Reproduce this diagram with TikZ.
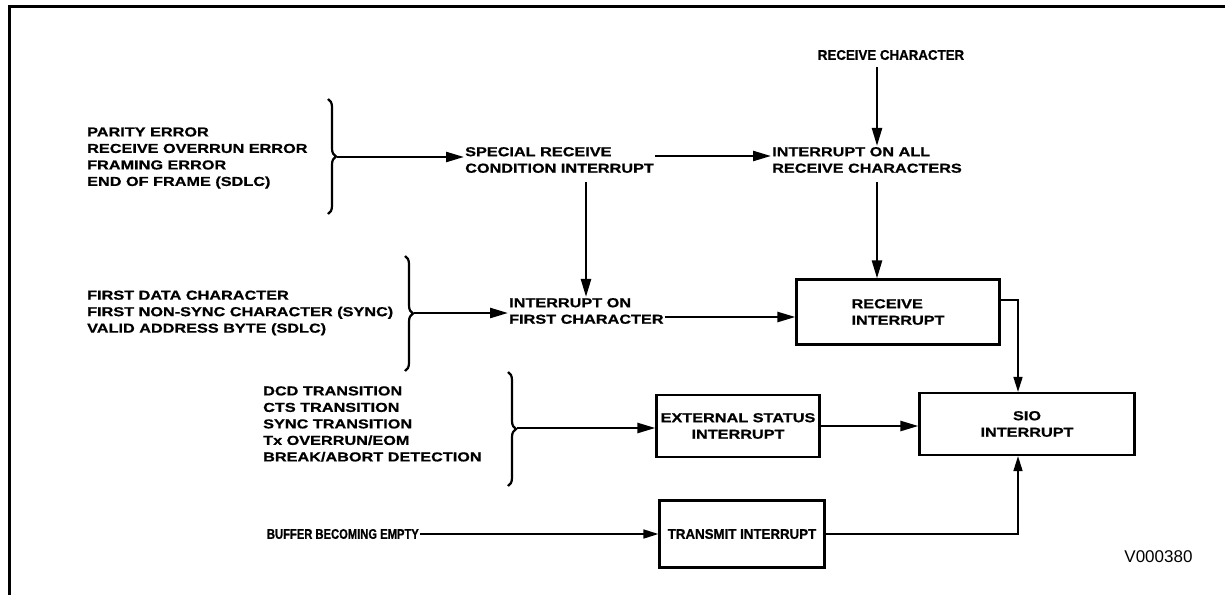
\documentclass[tikz,border=0pt]{standalone}
\usepackage{fontspec}
\setmainfont{Liberation Sans}
\newfontfamily\widefont{Liberation Sans}[FakeStretch=1.25, BoldFeatures={FakeBold=0.8}]
\newfontfamily\condfont{Liberation Sans}[FakeStretch=0.95, BoldFeatures={FakeBold=0.8}]
\newfontfamily\narrowfont{Liberation Sans}[FakeStretch=0.8, BoldFeatures={FakeBold=0.8}]
\usetikzlibrary{arrows.meta,decorations.pathreplacing}
\begin{document}
\begin{tikzpicture}[x=1pt,y=-1pt,
  lbl/.style={font=\widefont\bfseries\fontsize{13}{16.5}\selectfont, align=left, inner sep=1pt},
  clbl/.style={font=\condfont\bfseries\fontsize{14}{16}\selectfont, inner sep=1pt},
  boxnode/.style={draw, line width=2.2pt, font=\widefont\bfseries\fontsize{13}{16.5}\selectfont, align=left},
  arr/.style={line width=2.4pt, -{Triangle[length=18pt,width=10pt]}},
  tarr/.style={line width=1.6pt, -{Triangle[length=15pt,width=9pt]}},
  brc/.style={decorate, decoration={brace, amplitude=8pt}, line width=2.2pt}
]
\useasboundingbox (0,0) rectangle (1225,594);
% frame
\draw[line width=3pt] (9,596) -- (9,7) -- (1227,7);

\coordinate (xa) at (877,0);
\coordinate (xb) at (586,0);
\coordinate (xc) at (1018,0);

% top row
\node[clbl] (rc) at (891,55) {RECEIVE CHARACTER};
\node[lbl, anchor=west] (g1) at (86,158) {PARITY ERROR\\RECEIVE OVERRUN ERROR\\FRAMING ERROR\\END OF FRAME (SDLC)};
\draw[brc] (328,99) -- (328,214);
\coordinate (b1) at (337,157);
\node[lbl, anchor=west] (sp) at (464,160) {SPECIAL RECEIVE\\CONDITION INTERRUPT};
\node[lbl, anchor=west] (all) at (771,160) {INTERRUPT ON ALL\\RECEIVE CHARACTERS};
\draw[arr] (b1) -- (sp.west |- b1);
\draw[arr] ([yshift=4pt]sp.east) -- ([yshift=4pt]all.west);
\draw[arr] ([yshift=-6pt]rc.south -| xa) -- (all.north -| xa);

% second row
\node[lbl, anchor=west] (g2) at (86,313) {FIRST DATA CHARACTER\\FIRST NON-SYNC CHARACTER (SYNC)\\VALID ADDRESS BYTE (SDLC)};
\draw[brc] (405,256) -- (405,371);
\coordinate (b2) at (414,313);
\node[lbl, anchor=west] (fc) at (508,311) {INTERRUPT ON\\FIRST CHARACTER};
\node[boxnode, minimum width=203pt, minimum height=65pt] (recv) at (898,312) {RECEIVE\\INTERRUPT};
\draw[arr] (b2) -- (fc.west |- b2);
\draw[arr] ([yshift=-6pt]fc.east) -- ([yshift=-6pt]fc.east -| recv.west);
\draw[arr] ([yshift=-8pt]sp.south -| xb) -- (fc.north -| xb);
\draw[arr] ([yshift=-8pt]all.south -| xa) -- (recv.north -| xa);

% third row
\node[lbl, anchor=west] (g3) at (262,424) {DCD TRANSITION\\CTS TRANSITION\\SYNC TRANSITION\\Tx OVERRUN/EOM\\BREAK/ABORT DETECTION};
\draw[brc] (508,372) -- (508,486);
\coordinate (b3) at (517,428);
\node[boxnode, align=center, minimum width=163pt, minimum height=62pt] (ext) at (738,426) {EXTERNAL STATUS\\INTERRUPT};
\node[boxnode, align=center, minimum width=215pt, minimum height=62pt] (sio) at (1027,424) {SIO\\INTERRUPT};
\draw[arr] (b3) -- (ext.west |- b3);
\draw[arr] (ext.east) -- (ext.east -| sio.west);
\draw[tarr] ([yshift=12pt]recv.east) -| (sio.north -| xc);

% bottom row
\node[font=\narrowfont\bfseries\fontsize{14}{16}\selectfont, inner sep=1pt, anchor=east] (buf) at (420,534) {BUFFER BECOMING EMPTY};
\node[draw, line width=2.2pt, font=\condfont\bfseries\fontsize{14}{16}\selectfont, minimum width=165pt, minimum height=67pt] (tr) at (742,534) {TRANSMIT INTERRUPT};
\draw[tarr] (buf.east) -- (tr.west);
\draw[tarr] (tr.east) -| (sio.south -| xc);

\node[font=\fontsize{17}{20}\selectfont, anchor=east] (v) at (1196,557) {V000380};
\end{tikzpicture}
\end{document}
